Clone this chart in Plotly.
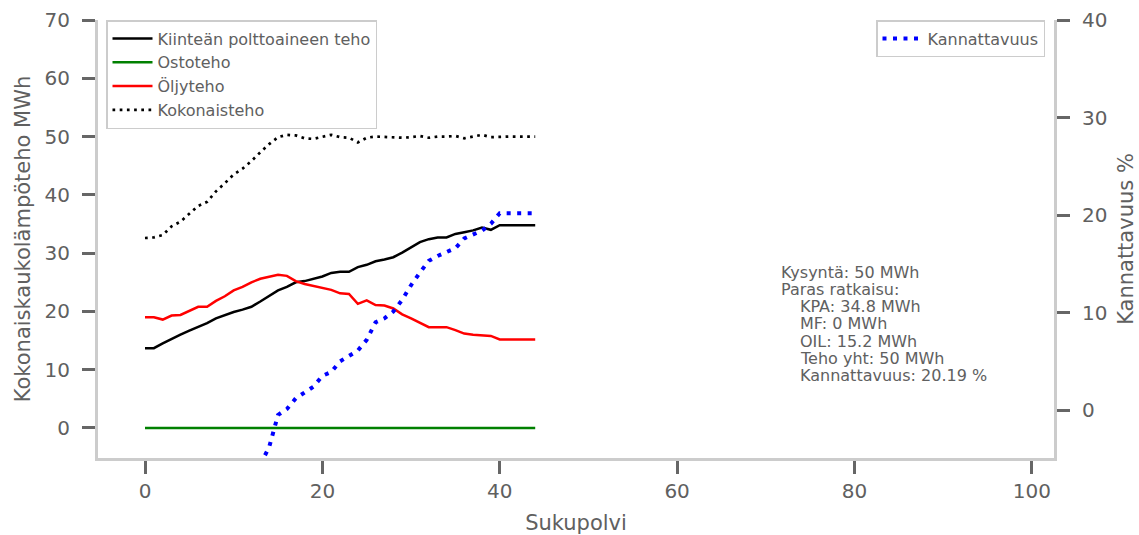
import plotly.graph_objects as go

# ---------------- data ----------------
generations = list(range(45))

kiintea_teho = [13.7, 13.7, 14.5, 15.3, 16.0, 16.7, 17.3, 18.0, 18.8, 19.4,
                19.9, 20.3, 20.8, 21.7, 22.7, 23.6, 24.2, 25.0, 25.2, 25.6,
                26.0, 26.6, 26.8, 26.8, 27.6, 28.0, 28.6, 28.9, 29.3, 30.1,
                31.0, 31.9, 32.4, 32.7, 32.7, 33.3, 33.6, 33.9, 34.4, 34.0,
                34.8, 34.8, 34.8, 34.8, 34.8]

ostoteho = [0, 0, 0, 0, 0, 0, 0, 0, 0, 0,
            0, 0, 0, 0, 0, 0, 0, 0, 0, 0,
            0, 0, 0, 0, 0, 0, 0, 0, 0, 0,
            0, 0, 0, 0, 0, 0, 0, 0, 0, 0,
            0, 0, 0, 0, 0]

oljyteho = [19.0, 19.0, 18.6, 19.3, 19.4, 20.1, 20.8, 20.8, 21.8, 22.6,
            23.6, 24.2, 25.0, 25.6, 26.0, 26.3, 26.1, 25.2, 24.7, 24.4,
            24.1, 23.7, 23.1, 23.0, 21.3, 21.9, 21.1, 21.0, 20.5, 19.5,
            18.8, 18.1, 17.3, 17.3, 17.3, 16.8, 16.2, 16.0, 15.9, 15.8,
            15.2, 15.2, 15.2, 15.2, 15.2]

kokonaisteho = [32.6, 32.7, 33.1, 34.6, 35.4, 36.8, 38.1, 38.8, 40.6, 42.0,
                43.5, 44.5, 45.8, 47.3, 48.7, 49.9, 50.3, 50.2, 49.7, 49.6,
                49.9, 50.3, 49.9, 49.8, 49.0, 49.8, 50.0, 49.9, 49.9, 49.8,
                49.9, 50.1, 49.8, 50.0, 50.0, 50.1, 49.7, 50.0, 50.3, 49.9,
                50.0, 50.0, 50.0, 50.0, 50.0]

kannattavuus_gen = list(range(13, 45))
kannattavuus = [-5.6, -3.8, -0.5, 0.1, 1.2, 1.8, 2.4, 3.5, 3.9, 5.0,
                5.6, 6.1, 7.2, 9.0, 9.4, 10.1, 11.3, 12.8, 14.1, 15.3,
                15.8, 16.2, 16.6, 17.6, 18.0, 18.4, 19.1, 20.19, 20.19, 20.19,
                20.19, 20.19]

info_lines = ["Kysyntä: 50 MWh", "Paras ratkaisu:", "KPA: 34.8 MWh", "MF: 0 MWh",
              "OIL: 15.2 MWh", "Teho yht: 50 MWh", "Kannattavuus: 20.19 %"]
info_indent = [0, 0, 1, 1, 1, 1, 1]

x_ticks = [0, 20, 40, 60, 80, 100]
y_ticks = [0, 10, 20, 30, 40, 50, 60, 70]
y2_ticks = [0, 10, 20, 30, 40]

# ---------------- styling ----------------
FONT = "DejaVu Sans"
TXT = "#606060"
SPINE = "#cccccc"
TICK = "#666666"

fig = go.Figure()
fig.add_trace(go.Scatter(x=generations, y=kiintea_teho, mode="lines",
                         name="Kiinteän polttoaineen teho",
                         line=dict(color="black", width=2.5)))
fig.add_trace(go.Scatter(x=generations, y=ostoteho, mode="lines", name="Ostoteho",
                         line=dict(color="green", width=2.5)))
fig.add_trace(go.Scatter(x=generations, y=oljyteho, mode="lines", name="Öljyteho",
                         line=dict(color="red", width=2.5)))
fig.add_trace(go.Scatter(x=generations, y=kokonaisteho, mode="lines", name="Kokonaisteho",
                         line=dict(color="black", width=2.7, dash="2.7px,4.5px")))
fig.add_trace(go.Scatter(x=kannattavuus_gen, y=kannattavuus, mode="lines",
                         name="Kannattavuus", yaxis="y2", legend="legend2",
                         line=dict(color="blue", width=4, dash="4px,6.5px")))

axis_common = dict(showline=True, linecolor=SPINE, linewidth=3, showgrid=False,
                   zeroline=False, ticks="outside", ticklen=13, tickwidth=2.5,
                   automargin=False,
                   tickcolor=TICK, tickfont=dict(family=FONT, size=20, color=TXT))

annotations = []
for i, (line, ind) in enumerate(zip(info_lines, info_indent)):
    annotations.append(dict(xref="paper", yref="paper",
                            x=(779 - 98) / 956, y=(458 - 272.0) / 438,
                            xanchor="left", yanchor="middle",
                            xshift=19 * ind, yshift=-17.3 * i,
                            text=line, showarrow=False,
                            font=dict(family=FONT, size=16, color=TXT)))

fig.update_layout(
    width=1139, height=535,
    margin=dict(l=98, r=85, t=20, b=77),
    paper_bgcolor="white", plot_bgcolor="white",
    font=dict(family=FONT, color=TXT),
    xaxis=dict(range=[-5.3, 102.5], tickvals=x_ticks,
               title=dict(text="Sukupolvi", font=dict(family=FONT, size=21, color=TXT), standoff=15),
               **axis_common),
    yaxis=dict(range=[-5.15, 70], tickvals=y_ticks, ticklabelstandoff=8,
               title=dict(text="Kokonaiskaukolämpöteho MWh", font=dict(family=FONT, size=21, color=TXT), standoff=9),
               **axis_common),
    yaxis2=dict(range=[-4.92, 40], tickvals=y2_ticks, overlaying="y", side="right",
                ticklabelstandoff=8,
                title=dict(text="Kannattavuus %", font=dict(family=FONT, size=21, color=TXT), standoff=12),
                **axis_common),
    legend=dict(x=(106 - 98) / 956, y=(458 - 20) / 438, xanchor="left", yanchor="top",
                bgcolor="white", bordercolor=SPINE, borderwidth=1.5, itemwidth=40,
                font=dict(family=FONT, size=16, color=TXT)),
    legend2=dict(x=(1045 - 98) / 956, y=(458 - 20) / 438, xanchor="right", yanchor="top",
                 bgcolor="white", bordercolor=SPINE, borderwidth=1.5, itemwidth=40,
                 font=dict(family=FONT, size=16, color=TXT)),
    annotations=annotations,
)

fig.write_html("out.html")
